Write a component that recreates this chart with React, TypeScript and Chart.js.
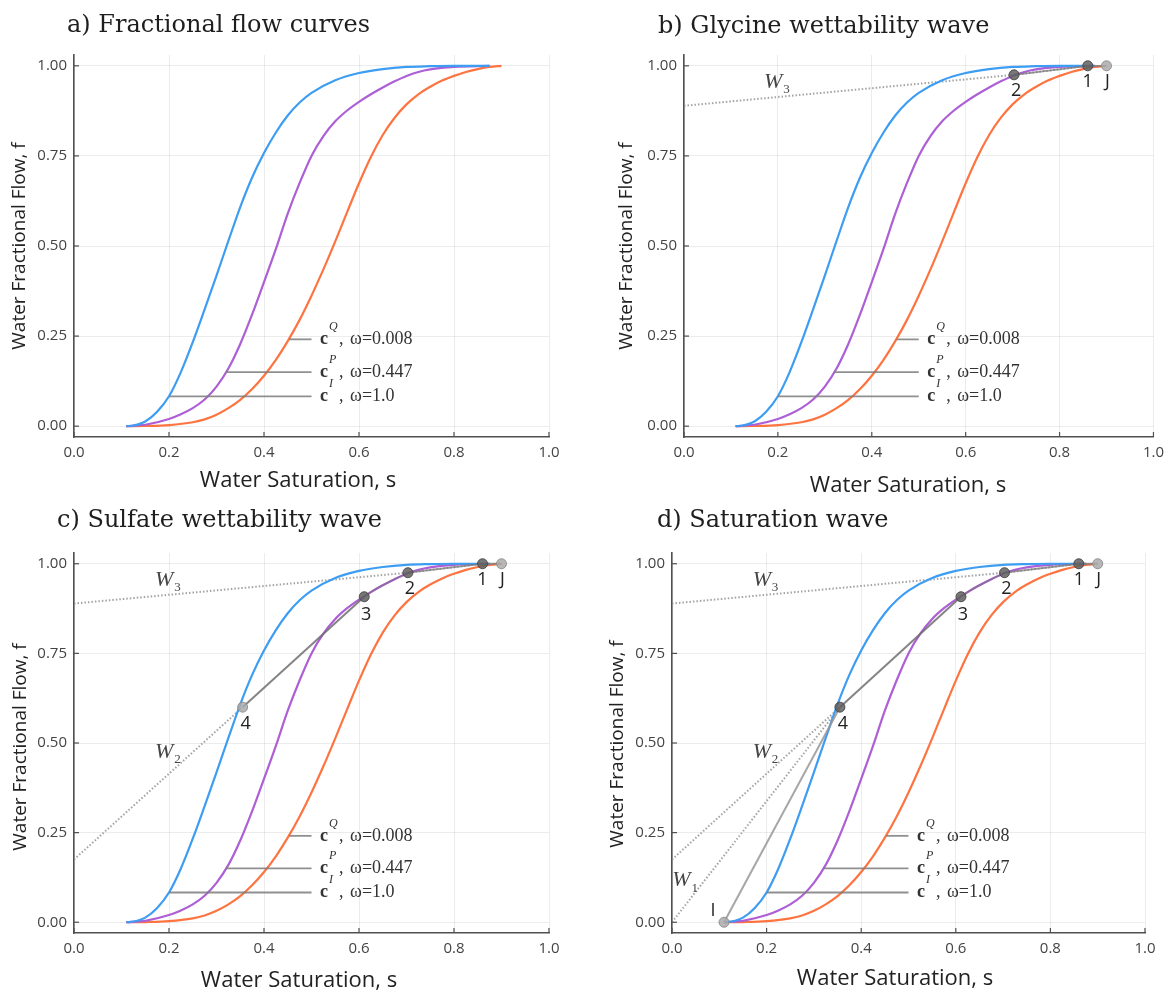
import React, { useEffect, useRef } from "react";
import { Chart, registerables } from "chart.js";

Chart.register(...registerables);

// ---------- data ----------
const xTicks = [0, 0.2, 0.4, 0.6, 0.8, 1.0];
const yTicks = [0, 0.25, 0.5, 0.75, 1.0];

// c^I, omega = 1.0 (blue)
const blueS = [0.11, 0.125, 0.15, 0.175, 0.2, 0.225, 0.25, 0.275, 0.3, 0.325, 0.35, 0.375, 0.4, 0.425, 0.45, 0.475, 0.5, 0.55, 0.6, 0.65, 0.7, 0.75, 0.8, 0.875];
const blueF = [0, 0.002, 0.013, 0.04, 0.083, 0.15, 0.233, 0.324, 0.418, 0.514, 0.608, 0.69, 0.758, 0.815, 0.862, 0.898, 0.925, 0.96, 0.98, 0.991, 0.997, 0.999, 1.0, 1.0];

// c^P, omega = 0.447 (purple)
const purpleS = [0.11, 0.15, 0.2, 0.225, 0.25, 0.275, 0.3, 0.325, 0.35, 0.375, 0.4, 0.425, 0.45, 0.475, 0.5, 0.525, 0.55, 0.575, 0.6, 0.625, 0.65, 0.675, 0.7, 0.725, 0.75, 0.8, 0.875];
const purpleF = [0, 0.004, 0.02, 0.033, 0.05, 0.074, 0.11, 0.16, 0.228, 0.31, 0.4, 0.492, 0.59, 0.675, 0.75, 0.805, 0.846, 0.876, 0.9, 0.921, 0.94, 0.957, 0.972, 0.983, 0.99, 0.997, 1.0];

// c^Q, omega = 0.008 (orange)
const orangeS = [0.11, 0.15, 0.2, 0.25, 0.275, 0.3, 0.325, 0.35, 0.375, 0.4, 0.425, 0.45, 0.475, 0.5, 0.525, 0.55, 0.575, 0.6, 0.625, 0.65, 0.675, 0.7, 0.725, 0.75, 0.775, 0.8, 0.825, 0.85, 0.875, 0.9];
const orangeF = [0, 0.0005, 0.003, 0.011, 0.019, 0.032, 0.05, 0.073, 0.103, 0.14, 0.184, 0.236, 0.295, 0.362, 0.435, 0.513, 0.594, 0.674, 0.747, 0.808, 0.856, 0.893, 0.921, 0.942, 0.959, 0.972, 0.983, 0.991, 0.997, 1.0];

// legend pointer labels
const legendSup = ["Q", "P", "I"];
const legendOmega = ["0.008", "0.447", "1.0"];
const legendF = [0.241, 0.15, 0.083];
const legendS0 = [0.453, 0.32, 0.2];
const legendS1 = 0.5;
const legendTextS = 0.518;

// wave points
const pointNames = ["J", "1", "2", "3", "4", "I"];
const pointS = [0.9, 0.86, 0.703, 0.611, 0.355, 0.11];
const pointF = [1.0, 1.0, 0.975, 0.908, 0.6, 0.0];

// wave line intercepts at s = 0
const w3Intercept = 0.889;
const w2Intercept = 0.175;
const w1Intercept = 0.0;

// ---------- layout ----------
const xTitleText = "Water Saturation, s";
const yTitleText = "Water Fractional Flow, f";

type PanelDef = {
  key: string; title: string; left: number; top: number; w: number; h: number;
  area: { l: number; r: number; t: number; b: number };
  titleX: number; titleY: number; xTitle: [number, number]; yTitle: [number, number]; stage: number;
};

const panels: PanelDef[] = [
  { key: "a", title: "a) Fractional flow curves", left: 0, top: 0, w: 585, h: 497, area: { l: 74, r: 549, t: 55, b: 437 }, titleX: 67, titleY: 32, xTitle: [298, 487], yTitle: [20, 246], stage: 0 },
  { key: "b", title: "b) Glycine wettability wave", left: 585, top: 0, w: 586, h: 497, area: { l: 99, r: 572, t: 55, b: 437 }, titleX: 73, titleY: 33, xTitle: [323, 492], yTitle: [42, 246], stage: 1 },
  { key: "c", title: "c) Sulfate wettability wave", left: 0, top: 497, w: 585, h: 497, area: { l: 74, r: 549, t: 56, b: 436 }, titleX: 57, titleY: 30, xTitle: [299, 490], yTitle: [21, 250], stage: 2 },
  { key: "d", title: "d) Saturation wave", left: 585, top: 497, w: 586, h: 497, area: { l: 87, r: 560, t: 56, b: 436 }, titleX: 72, titleY: 30, xTitle: [310, 488], yTitle: [33, 247], stage: 3 },
];

const BLUE = "#3d9df2";
const PURPLE = "#ad5fd6";
const ORANGE = "#fd7440";
const DARK_PT = "rgba(95,95,95,0.85)";
const DARK_PT_B = "rgba(70,70,70,0.9)";
const LIGHT_PT = "rgba(170,170,170,0.85)";
const LIGHT_PT_B = "rgba(140,140,140,0.9)";

const pts = (s: number[], f: number[]) => s.map((v, i) => ({ x: v, y: f[i] }));
const P = (name: string) => {
  const i = pointNames.indexOf(name);
  return { x: pointS[i], y: pointF[i] };
};

function curve(label: string, s: number[], f: number[], color: string, order: number) {
  return {
    label, data: pts(s, f), showLine: true, borderColor: color, backgroundColor: color,
    borderWidth: 2.2, pointRadius: 0, cubicInterpolationMode: "monotone", order,
  };
}
function seg(label: string, data: { x: number; y: number }[], color: string, width: number, dash: number[], order: number, monotone = false) {
  return {
    label, data, showLine: true, borderColor: color, backgroundColor: color, borderWidth: width,
    borderDash: dash, pointRadius: 0, order, ...(monotone ? { cubicInterpolationMode: "monotone" } : {}),
  };
}
function dot(name: string, light: boolean) {
  return {
    label: "pt" + name, data: [P(name)], showLine: false, pointRadius: 5,
    backgroundColor: light ? LIGHT_PT : DARK_PT, borderColor: light ? LIGHT_PT_B : DARK_PT_B,
    borderWidth: 1, order: 0,
  };
}

function buildDatasets(stage: number): any[] {
  const ds: any[] = [];
  ds.push(curve("cI", blueS, blueF, BLUE, 5));
  ds.push(curve("cP", purpleS, purpleF, PURPLE, 5));
  ds.push(curve("cQ", orangeS, orangeF, ORANGE, 5));
  legendF.forEach((f, i) => {
    ds.push(seg("leg" + i, [{ x: legendS0[i], y: f }, { x: legendS1, y: f }], "rgba(125,125,125,0.85)", 1.8, [], 4));
  });
  const DOT = [1.5, 2];
  const GREY = "rgba(120,120,120,0.75)";
  if (stage >= 1) {
    ds.push(seg("W3", [{ x: 0, y: w3Intercept }, P("2"), P("1")], "rgba(140,140,140,0.8)", 2, DOT, 6));
    ds.push(seg("w21", [P("2"), P("1"), P("J")], GREY, 1.8, [], 3));
  }
  if (stage >= 2) {
    ds.push(seg("W2", [{ x: 0, y: w2Intercept }, P("4")], "rgba(140,140,140,0.8)", 2, DOT, 6));
    ds.push(seg("w43", [P("4"), P("3")], "rgba(110,110,110,0.85)", 2, [], 3));
    const s3 = P("3").x, s2 = P("2").x;
    const inner = pts(purpleS, purpleF).filter((p) => p.x > s3 + 1e-6 && p.x < s2 - 1e-6);
    ds.push(seg("w32", [P("3"), ...inner, P("2")], "rgba(110,110,110,0.45)", 2, [], 3, true));
  }
  if (stage >= 3) {
    ds.push(seg("W1", [{ x: 0, y: w1Intercept }, P("4")], "rgba(140,140,140,0.8)", 2, DOT, 6));
    ds.push(seg("wI4", [P("I"), P("4")], "rgba(150,150,150,0.85)", 2, [], 3));
  }
  // points
  if (stage >= 1) {
    ds.push(dot("J", true));
    ds.push(dot("1", false));
    ds.push(dot("2", false));
  }
  if (stage >= 2) {
    ds.push(dot("3", false));
    ds.push(dot("4", stage === 2));
  }
  if (stage >= 3) ds.push(dot("I", true));
  return ds;
}

const labelOffsets: Record<string, [number, number]> = {
  J: [1, 16], "1": [0, 16], "2": [2, 16], "3": [2, 18], "4": [3, 17], I: [-11, -11],
};

function pointLabels(stage: number): string[] {
  const out: string[] = [];
  if (stage >= 1) out.push("J", "1", "2");
  if (stage >= 2) out.push("3", "4");
  if (stage >= 3) out.push("I");
  return out;
}

function wLabels(stage: number): { sub: string; s: number; f: number }[] {
  const out: { sub: string; s: number; f: number }[] = [];
  if (stage >= 1) out.push({ sub: "3", s: 0.19, f: 0.955 });
  if (stage >= 2) out.push({ sub: "2", s: 0.19, f: 0.475 });
  if (stage >= 3) out.push({ sub: "1", s: 0.02, f: 0.116 });
  return out;
}

function makePlugin(panel: PanelDef) {
  return {
    id: "annot" + panel.key,
    afterDraw(chart: any) {
      const { ctx, chartArea } = chart;
      const x = chart.scales.x;
      const y = chart.scales.y;
      ctx.save();
      // inward ticks
      ctx.strokeStyle = "#505050";
      ctx.lineWidth = 1.2;
      xTicks.forEach((v) => {
        const px = x.getPixelForValue(v);
        ctx.beginPath();
        ctx.moveTo(px, chartArea.bottom);
        ctx.lineTo(px, chartArea.bottom - 5);
        ctx.stroke();
      });
      yTicks.forEach((v) => {
        const py = y.getPixelForValue(v);
        ctx.beginPath();
        ctx.moveTo(chartArea.left, py);
        ctx.lineTo(chartArea.left + 5, py);
        ctx.stroke();
      });

      // title
      ctx.fillStyle = "#1e1e1e";
      ctx.font = "24px 'DejaVu Serif'";
      ctx.textAlign = "left";
      ctx.textBaseline = "alphabetic";
      ctx.fillText(panel.title, panel.titleX, panel.titleY);

      // axis titles
      ctx.fillStyle = "#222";
      ctx.font = "22px 'Open Sans'";
      ctx.textAlign = "center";
      ctx.fillText(xTitleText, panel.xTitle[0], panel.xTitle[1]);
      ctx.save();
      ctx.translate(panel.yTitle[0], panel.yTitle[1]);
      ctx.rotate(-Math.PI / 2);
      ctx.font = "19px 'Open Sans'";
      ctx.textBaseline = "middle";
      ctx.fillText(yTitleText, 0, 0);
      ctx.restore();

      // legend labels
      ctx.fillStyle = "#333";
      ctx.textAlign = "left";
      ctx.textBaseline = "alphabetic";
      legendF.forEach((f, i) => {
        const px = x.getPixelForValue(legendTextS);
        const py = y.getPixelForValue(f) + 5;
        ctx.font = "bold 18px 'Liberation Serif'";
        ctx.fillText("c", px, py);
        ctx.font = "italic 12px 'Liberation Serif'";
        ctx.fillText(legendSup[i], px + 9, py - 14);
        ctx.font = "18px 'Liberation Serif'";
        ctx.fillText(",", px + 19, py);
        ctx.fillText("\u03c9=" + legendOmega[i], px + 30, py);
      });

      // point labels
      ctx.fillStyle = "#222";
      ctx.font = "18px 'Open Sans'";
      ctx.textAlign = "center";
      ctx.textBaseline = "middle";
      pointLabels(panel.stage).forEach((name) => {
        const p = P(name);
        const off = labelOffsets[name];
        ctx.fillText(name, x.getPixelForValue(p.x) + off[0], y.getPixelForValue(p.y) + off[1]);
      });

      // W labels
      ctx.fillStyle = "#444";
      wLabels(panel.stage).forEach((w) => {
        const px = x.getPixelForValue(w.s);
        const py = y.getPixelForValue(w.f);
        ctx.font = "italic 22px 'Liberation Serif'";
        ctx.textAlign = "center";
        ctx.fillText("W", px, py);
        ctx.font = "13px 'Liberation Serif'";
        ctx.textAlign = "left";
        ctx.fillText(w.sub, px + 10, py + 8);
      });
      ctx.restore();
    },
  };
}

function Panel({ panel }: { panel: PanelDef }) {
  const ref = useRef<HTMLCanvasElement | null>(null);
  useEffect(() => {
    if (!ref.current) return;
    const a = panel.area;
    const tickFont = { family: "'Open Sans'", size: 15 };
    const chart = new Chart(ref.current, {
      type: "scatter",
      data: { datasets: buildDatasets(panel.stage) },
      options: {
        animation: false,
        responsive: false,
        maintainAspectRatio: false,
        devicePixelRatio: 1,
        layout: { padding: { left: 0, right: panel.w - a.r, top: a.t, bottom: 0 } },
        plugins: { legend: { display: false }, tooltip: { enabled: false }, title: { display: false } },
        scales: {
          x: {
            type: "linear", min: 0, max: 1,
            afterBuildTicks: (s: any) => { s.ticks = xTicks.map((v) => ({ value: v })); },
            afterFit: (s: any) => { s.height = panel.h - a.b; },
            grid: { color: "rgba(0,0,0,0.075)", lineWidth: 1, drawTicks: false },
            border: { color: "#505050", width: 1.6 },
            ticks: { padding: 7, color: "#444", font: tickFont, maxRotation: 0, autoSkip: false, callback: (v: any) => Number(v).toFixed(1) },
          },
          y: {
            type: "linear", min: -0.03, max: 1.03,
            afterBuildTicks: (s: any) => { s.ticks = yTicks.map((v) => ({ value: v })); },
            afterFit: (s: any) => { s.width = a.l; },
            grid: { color: "rgba(0,0,0,0.075)", lineWidth: 1, drawTicks: false },
            border: { color: "#505050", width: 1.6 },
            ticks: { padding: 7, color: "#444", font: tickFont, autoSkip: false, callback: (v: any) => Number(v).toFixed(2) },
          },
        },
      } as any,
      plugins: [makePlugin(panel)],
    });
    return () => chart.destroy();
  }, [panel]);
  return (
    <div style={{ position: "absolute", left: panel.left, top: panel.top, width: panel.w, height: panel.h }}>
      <canvas ref={ref} width={panel.w} height={panel.h} style={{ width: panel.w, height: panel.h, display: "block" }} />
    </div>
  );
}

export default function App() {
  return (
    <div style={{ position: "absolute", left: 0, top: 0, width: 1171, height: 994, background: "#fff", overflow: "hidden" }}>
      {panels.map((p) => (
        <Panel key={p.key} panel={p} />
      ))}
    </div>
  );
}
